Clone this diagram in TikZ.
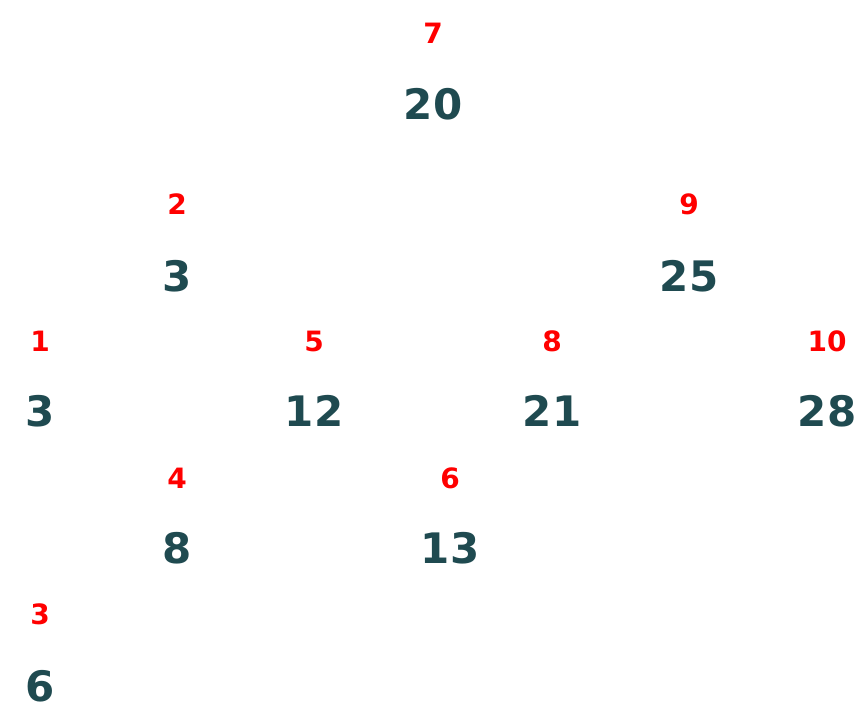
\documentclass[tikz,border=0pt]{standalone}
\usepackage{fontspec}
\newfontfamily\numfont{DejaVu Sans}
\definecolor{numcol}{HTML}{1F4A50}
\begin{document}
\begin{tikzpicture}[x=1pt,y=-1pt,
  val/.style={font=\numfont\bfseries\fontsize{42}{42}\selectfont, text=numcol, inner sep=0pt},
  idx/.style={font=\numfont\bfseries\fontsize{28}{28}\selectfont, text=red, inner sep=0pt}]
\useasboundingbox (0,0) rectangle (868,715);
\node[val] (v20) at (433,104) {20};
\node[val] (v3a) at (177,276) {3};
\node[val] (v25) at (689,276) {25};
\node[val] (v3b) at (40,411) {3};
\node[val] (v12) at (314,411) {12};
\node[val] (v21) at (552,411) {21};
\node[val] (v28) at (827,411) {28};
\node[val] (v8) at (177,548) {8};
\node[val] (v13) at (450,548) {13};
\node[val] (v6) at (40,686) {6};
\node[idx] (i7) at (433,33) {7};
\node[idx] (i2) at (177,204) {2};
\node[idx] (i9) at (689,204) {9};
\node[idx] (i1) at (40,341) {1};
\node[idx] (i5) at (314,341) {5};
\node[idx] (i8) at (552,341) {8};
\node[idx] (i10) at (827,341) {10};
\node[idx] (i4) at (177,478) {4};
\node[idx] (i6) at (450,478) {6};
\node[idx] (i3) at (40,614) {3};
\end{tikzpicture}
\end{document}
